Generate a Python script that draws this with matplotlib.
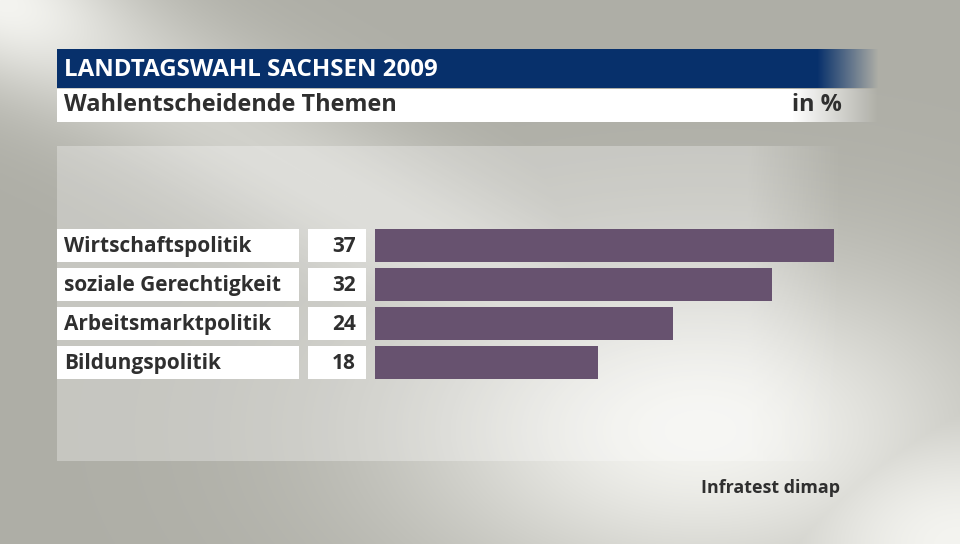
"""
Landtagswahl Sachsen 2009 - Wahlentscheidende Themen (Balkendiagramm).
"""

import matplotlib
matplotlib.use("Agg")
import matplotlib.pyplot as plt
import matplotlib.patches as mpatches
import matplotlib.transforms as mtransforms
import numpy as np


TITEL = "LANDTAGSWAHL SACHSEN 2009"
UNTERTITEL = "Wahlentscheidende Themen"
EINHEIT = "in %"
QUELLE = "Infratest dimap"

THEMEN = [
    "Wirtschaftspolitik",
    "soziale Gerechtigkeit",
    "Arbeitsmarktpolitik",
    "Bildungspolitik",
]
WERTE = [37, 32, 24, 18]

FARBE_BALKEN = "#67526f"
FARBE_TITEL = "#07306b"
FARBE_TEXT = "#2f2f2f"
SCHRIFT = ["Open Sans", "DejaVu Sans"]

B, H = 960, 544


def _hintergrund() -> np.ndarray:
    """Grauer Hintergrund mit hellem diagonalem Verlauf."""
    yy, xx = np.mgrid[0:H, 0:B]
    # diagonales Band, oben links schmal
    n = np.array([-0.493, 0.870])
    d = n[0] * xx + n[1] * yy
    band = np.exp(-(d / 85.0) ** 2) * (0.5 + 0.5 * np.exp(-((xx + yy) / 150.0) ** 2))
    # heller Fleck Mitte rechts / unten
    fleck = np.exp(-(((xx - 700) / 300.0) ** 2 + ((yy - 430) / 170.0) ** 2))
    ecke = np.exp(-(((xx - 960) / 220.0) ** 2 + ((yy - 544) / 150.0) ** 2))
    w = np.clip(np.maximum(np.maximum(band, fleck), ecke), 0, 1)
    dunkel = np.array([174, 174, 166]) / 255.0
    hell = np.array([244, 244, 240]) / 255.0
    return dunkel[None, None, :] * (1 - w[..., None]) + hell[None, None, :] * w[..., None]


def _verlauf_rgba(farbe, breite, start_fade, alpha=1.0):
    """Horizontaler Streifen, der rechts ausblendet."""
    rgb = np.array(matplotlib.colors.to_rgb(farbe))
    x = np.arange(breite)
    a = np.clip(1 - (x - start_fade) / (breite - start_fade), 0, 1) * alpha
    a[x < start_fade] = alpha
    img = np.zeros((1, breite, 4))
    img[0, :, :3] = rgb
    img[0, :, 3] = a
    return img


fig = plt.figure(figsize=(9.6, 5.44), dpi=100)

bg = fig.add_axes([0, 0, 1, 1])
bg.set_xlim(0, B)
bg.set_ylim(H, 0)
bg.axis("off")
bg.imshow(_hintergrund(), extent=(0, B, H, 0), aspect="auto", zorder=0)

# heller Rahmen hinter dem Diagramm
bg.imshow(_verlauf_rgba("white", 785, 690, alpha=0.3), extent=(57, 842, 461, 146),
          aspect="auto", zorder=1)

# Titelbalken und Untertitel
bg.imshow(_verlauf_rgba(FARBE_TITEL, 821, 760), extent=(57, 878, 88, 49),
          aspect="auto", zorder=2)
bg.imshow(_verlauf_rgba("white", 821, 735), extent=(57, 878, 122, 89),
          aspect="auto", zorder=2)

bg.text(64, 69.5, TITEL, color="white", fontsize=17.4, fontweight="bold",
        family=SCHRIFT, va="center", ha="left", zorder=3)
bg.text(64, 105, UNTERTITEL, color=FARBE_TEXT, fontsize=16.9, fontweight="bold",
        family=SCHRIFT, va="center", ha="left", zorder=3)
bg.text(842, 105, EINHEIT, color=FARBE_TEXT, fontsize=16.9, fontweight="bold",
        family=SCHRIFT, va="center", ha="right", zorder=3)
bg.text(840, 488, QUELLE, color=FARBE_TEXT, fontsize=12.9, fontweight="bold",
        family=SCHRIFT, va="center", ha="right", zorder=3)

# Balken
ax = fig.add_axes([375 / B, 1 - 382 / H, 496 / B, 156 / H])
ax.set_xlim(0, 40)
ax.set_ylim(len(THEMEN) - 0.5, -0.5)
ax.axis("off")
ax.patch.set_alpha(0)
hoehe = 33 / 39
pos = np.arange(len(THEMEN))
ax.barh(pos, WERTE, height=hoehe, color=FARBE_BALKEN, edgecolor="none")

trans = mtransforms.blended_transform_factory(bg.transData, ax.transData)
for i, (thema, wert) in enumerate(zip(THEMEN, WERTE)):
    bg.add_patch(mpatches.Rectangle((57, i - hoehe / 2), 242, hoehe, transform=trans,
                                    facecolor="white", edgecolor="none", zorder=3))
    bg.add_patch(mpatches.Rectangle((308, i - hoehe / 2), 58, hoehe, transform=trans,
                                    facecolor="white", edgecolor="none", zorder=3))
    bg.text(64, i + 0.02, thema, transform=trans, color=FARBE_TEXT, fontsize=15,
            fontweight="bold", family=SCHRIFT, va="center", ha="left", zorder=4)
    bg.text(356, i + 0.02, str(wert), transform=trans, color=FARBE_TEXT, fontsize=15,
            fontweight="bold", family=SCHRIFT, va="center", ha="right", zorder=4)

fig.savefig("out.png", dpi=100)
plt.close(fig)
